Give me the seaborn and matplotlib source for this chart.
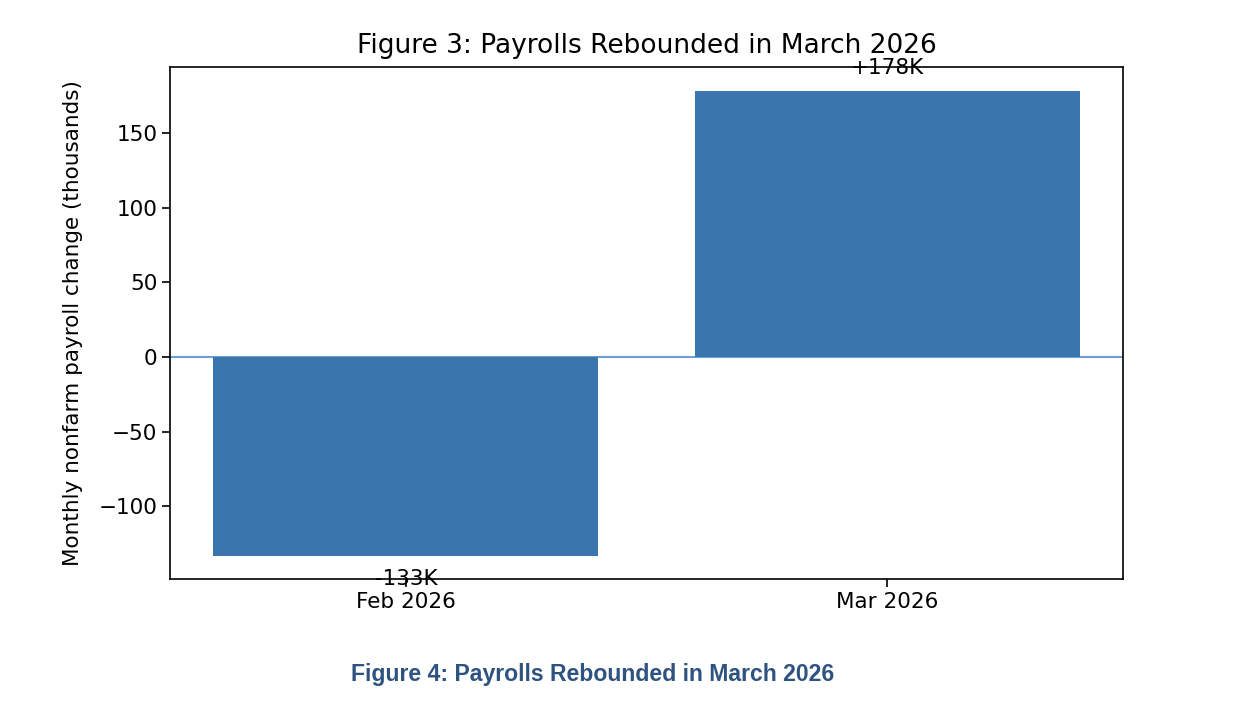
import pandas as pd
import matplotlib
matplotlib.use("Agg")
import matplotlib.pyplot as plt
from matplotlib import font_manager
import seaborn as sns

# monthly nonfarm payroll change, thousands
months = ["Feb 2026", "Mar 2026"]
changes = [-133, 178]
labels = ["-133K", "+178K"]

data = pd.DataFrame({"month": months, "change": changes})

plt.rcParams["font.family"] = ["DejaVu Sans"]
plt.rcParams["axes.linewidth"] = 1.2

fig = plt.figure(figsize=(12.4, 7.18), dpi=100)
ax = fig.add_axes([170 / 1240, 1 - 579 / 718, (1123 - 170) / 1240, (579 - 67) / 718])

sns.barplot(x="month", y="change", data=data, color="#3a75ae", saturation=1, width=0.8, ax=ax)
ax.axhline(0, color="#6f9fcf", linewidth=1.5, zorder=0)

# 柱子上标注数值
for i, (v, lab) in enumerate(zip(changes, labels)):
    if v >= 0:
        ax.text(i, v + 9, lab, ha="center", va="bottom", fontsize=15.5)
    else:
        ax.text(i, v - 9, lab, ha="center", va="top", fontsize=15.5)

ax.set_xlim(-0.49, 1.49)
ax.set_ylim(-148.6, 194.2)
ax.set_xlabel("")
ax.set_ylabel("Monthly nonfarm payroll change (thousands)", fontsize=15.5, labelpad=11)
ax.set_title("Figure 3: Payrolls Rebounded in March 2026", fontsize=19, pad=10)
ax.tick_params(labelsize=15.5, length=5.5, width=1.2)

# caption below the chart, in a regular-width bold sans font
cap_font = None
for f in font_manager.fontManager.ttflist:
    if f.name == "Liberation Sans" and f.weight == 700 and f.style == "normal":
        cap_font = font_manager.FontProperties(fname=f.fname, size=16.6)
        break
if cap_font is None:
    cap_font = font_manager.FontProperties(family="DejaVu Sans", weight="bold", size=15)

fig.text(593 / 1240, 1 - 674 / 718, "Figure 4: Payrolls Rebounded in March 2026",
         ha="center", va="center", fontproperties=cap_font, color="#2e5380")

fig.savefig("out.png", dpi=100)
